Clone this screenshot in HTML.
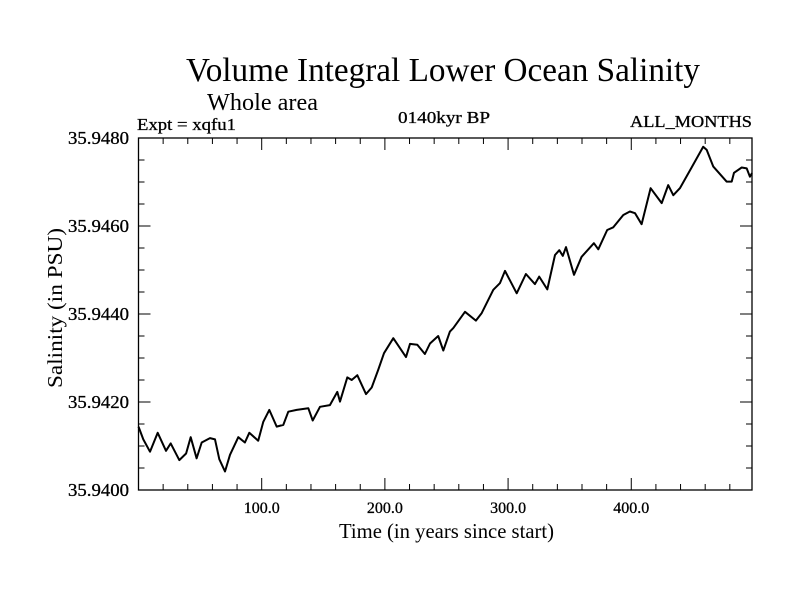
<!DOCTYPE html>
<html><head><meta charset="utf-8"><style>
body{margin:0;background:#fff}
svg{display:block;font-family:"Liberation Serif",serif}
</style></head><body>
<svg width="800" height="600">
<rect width="800" height="600" fill="#fff"/>
<text x="186" y="81" font-size="34" textLength="514" lengthAdjust="spacingAndGlyphs">Volume Integral Lower Ocean Salinity</text>
<text x="207" y="110" font-size="24" textLength="111" lengthAdjust="spacingAndGlyphs">Whole area</text>
<text x="137" y="130" font-size="17" textLength="99" lengthAdjust="spacingAndGlyphs" stroke="#000" stroke-width="0.3">Expt = xqfu1</text>
<text x="398" y="123" font-size="17" textLength="92" lengthAdjust="spacingAndGlyphs" stroke="#000" stroke-width="0.3">0140kyr BP</text>
<text x="630" y="127" font-size="17" textLength="122" lengthAdjust="spacingAndGlyphs" stroke="#000" stroke-width="0.3">ALL_MONTHS</text>
<g id="axes"></g>
<path id="line" fill="none" stroke="#000" stroke-width="2" stroke-linejoin="round"/>
<text x="339" y="538" font-size="21" textLength="215" lengthAdjust="spacingAndGlyphs">Time (in years since start)</text>
<text transform="translate(62,388) rotate(-90)" font-size="21" textLength="160" lengthAdjust="spacingAndGlyphs">Salinity (in PSU)</text>
</svg>
<script>
const years=[0,3.9,9.3,15.6,22.3,26.1,33.1,38.6,42.4,47.2,51.3,58,62.1,65.6,70.2,74.3,81,86.4,89.9,97.2,101.3,106.2,112.2,117.5,121.6,128.4,137.8,141.4,147.3,155.4,161.4,163.6,169.5,173.1,177.6,184.7,189.3,194.6,199.3,206.8,217.1,220.4,226.3,232.5,236.6,243.3,247.4,252.8,255.5,265,273.9,278.6,288,293.4,297.5,307,314.5,321.8,325.3,331.8,338.1,341.6,344.4,347,353.5,359.7,369.7,373.2,380.5,385.4,393.5,398.9,403,408.4,415.7,424.7,430,434.1,439.5,449,458.4,461.2,466.6,477.4,481.5,483.4,489.6,493.7,496.3,498];
const salinity=[35.94144,35.94115,35.94087,35.9413,35.94089,35.94106,35.94068,35.94083,35.9412,35.94072,35.94108,35.94118,35.94115,35.9407,35.94042,35.9408,35.9412,35.94108,35.9413,35.94112,35.94155,35.94182,35.94144,35.94148,35.94178,35.94182,35.94186,35.94158,35.94189,35.94193,35.94223,35.94201,35.94256,35.9425,35.94261,35.94218,35.94233,35.94273,35.94311,35.94345,35.94302,35.94332,35.9433,35.94309,35.94333,35.9435,35.94317,35.9436,35.94368,35.94405,35.94385,35.94402,35.94455,35.9447,35.94498,35.94447,35.94491,35.94468,35.94485,35.94456,35.94534,35.94545,35.94532,35.94552,35.94489,35.9453,35.94561,35.94547,35.94591,35.94597,35.94625,35.94633,35.94629,35.94604,35.94686,35.94652,35.94693,35.9467,35.94686,35.94733,35.9478,35.94773,35.94735,35.94701,35.94701,35.94721,35.94733,35.94731,35.94712,35.9472];
const xTicks=[100,200,300,400];
const yTicks=[35.940,35.942,35.944,35.946,35.948];
const L=138.5,R=752,T=138,B=490,X0=0,X1=498,Y0=35.940,Y1=35.948;
const sx=v=>L+(v-X0)/(X1-X0)*(R-L);
const sy=v=>B-(v-Y0)/(Y1-Y0)*(B-T);
const NS='http://www.w3.org/2000/svg';
const g=document.getElementById('axes');
function mk(t,a){const e=document.createElementNS(NS,t);for(const k in a)e.setAttribute(k,a[k]);g.appendChild(e);return e;}
const fr=mk('rect',{x:L,y:T,width:R-L,height:B-T,fill:'none',stroke:'#000','stroke-width':1.3});


for(let v=20;v<X1;v+=20){const x=sx(v),len=(v%100===0)?12:6;
mk('line',{x1:x,x2:x,y1:B,y2:B-len,stroke:'#000'});mk('line',{x1:x,x2:x,y1:T,y2:T+len,stroke:'#000'});}
for(let v=Y0+0.0005;v<Y1-1e-7;v+=0.0005){const y=sy(v),len=(Math.round(v*10000)%20===0)?12:6;
mk('line',{x1:L,x2:L+len,y1:y,y2:y,stroke:'#000'});mk('line',{x1:R,x2:R-len,y1:y,y2:y,stroke:'#000'});}
xTicks.forEach(v=>{const t=mk('text',{x:sx(v),y:B+23,'font-size':16,'text-anchor':'middle',stroke:'#000','stroke-width':0.3});t.textContent=v.toFixed(1);

});
yTicks.forEach(v=>{const t=mk('text',{x:68,y:sy(v)+6,'font-size':18,textLength:61,lengthAdjust:'spacingAndGlyphs',stroke:'#000','stroke-width':0.3});t.textContent=v.toFixed(4);

});
document.getElementById('line').setAttribute('d',years.map((y,i)=>(i?'L':'M')+sx(y).toFixed(1)+','+sy(salinity[i]).toFixed(1)).join(''));
</script>
</body></html>
